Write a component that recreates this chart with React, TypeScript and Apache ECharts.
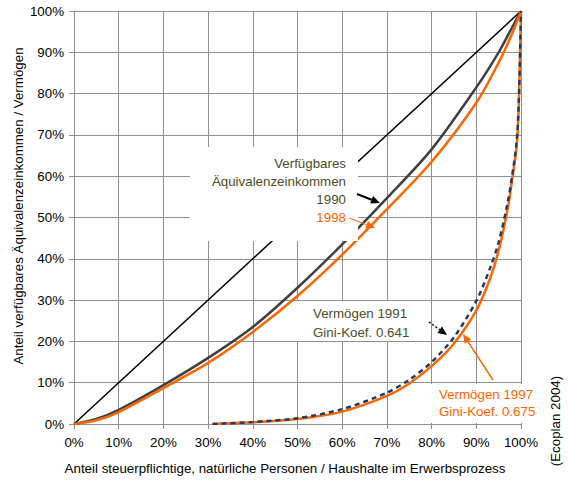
import React, { useEffect, useRef } from "react";
import * as echarts from "echarts";

// Share of persons / households (x) and cumulative share of income (y)
const incomeShare = [0, 0.05, 0.1, 0.2, 0.3, 0.4, 0.5, 0.6, 0.7, 0.8, 0.9, 0.95, 0.98, 1];
const income1990 = [0, 0.012, 0.034, 0.094, 0.16, 0.235, 0.33, 0.435, 0.547, 0.665, 0.815, 0.9, 0.96, 1];
const income1998 = [0, 0.009, 0.029, 0.087, 0.148, 0.223, 0.31, 0.41, 0.52, 0.635, 0.778, 0.875, 0.945, 1];

// Share of persons (x) and cumulative share of wealth (y)
const wealthShare = [0.31, 0.4, 0.5, 0.6, 0.7, 0.75, 0.8, 0.85, 0.9, 0.93, 0.95, 0.97, 0.98, 0.99, 0.995, 1];
const wealth1991 = [0, 0.005, 0.014, 0.036, 0.076, 0.107, 0.15, 0.21, 0.298, 0.375, 0.44, 0.535, 0.6, 0.68, 0.78, 1];
const wealth1997 = [0, 0.004, 0.012, 0.03, 0.068, 0.098, 0.14, 0.195, 0.275, 0.35, 0.42, 0.52, 0.59, 0.67, 0.77, 1];

const equality = [0, 1];

const FONT = "'Liberation Sans', Arial, sans-serif";
const OLIVE = "#4d4d26";
const ORANGE = "#ff6600";
const NAVY = "#1f3d6b";
const GRID = "#8f8f8f";

function pairs(xs: number[], ys: number[]) {
  return xs.map((x, i) => [x, ys[i]]);
}

function arrow(x1: number, y1: number, x2: number, y2: number, color: string, width: number, dash?: number[]) {
  const dx = x2 - x1, dy = y2 - y1;
  const L = Math.hypot(dx, dy);
  const ux = dx / L, uy = dy / L;
  const hl = 9, hw = 4;
  const bx = x2 - ux * hl, by = y2 - uy * hl;
  const px = -uy * hw, py = ux * hw;
  return [
    { type: "line", z: 100, shape: { x1, y1, x2: bx, y2: by }, style: { stroke: color, lineWidth: width, lineDash: dash } },
    { type: "polygon", z: 100, shape: { points: [[x2, y2], [bx + px, by + py], [bx - px, by - py]] }, style: { fill: color } },
  ];
}

function txt(x: number, y: number, text: string, color: string, align: string, rotation = 0) {
  return {
    type: "text",
    z: 101,
    x,
    y,
    rotation,
    style: { text, fill: color, font: `13.33px ${FONT}`, align, verticalAlign: "middle" },
  };
}

function box(x: number, y: number, w: number, h: number) {
  return { type: "rect", z: 99, shape: { x, y, width: w, height: h }, style: { fill: "#fff" } };
}

export default function App() {
  const ref = useRef<HTMLDivElement>(null);
  useEffect(() => {
    if (!ref.current) return;
    const chart = echarts.init(ref.current, null, { renderer: "svg" });
    const axisCommon = {
      type: "value",
      min: 0,
      max: 1,
      interval: 0.1,
      axisLine: { show: true, lineStyle: { color: GRID, width: 1 } },
      axisTick: { show: true, length: 5, lineStyle: { color: GRID } },
      splitLine: { show: true, lineStyle: { color: GRID, width: 1 } },
      axisLabel: {
        color: "#000",
        fontSize: 13.33,
        fontFamily: FONT,
        formatter: (v: number) => Math.round(v * 100) + "%",
      },
    };
    const curve = { type: "line", symbol: "none", silent: true, smooth: 0.3 };
    chart.setOption({
      animation: false,
      backgroundColor: "#fff",
      grid: { left: 74, right: 47, top: 11, bottom: 56 },
      xAxis: { ...axisCommon, axisLabel: { ...axisCommon.axisLabel, margin: 12 } },
      yAxis: { ...axisCommon, axisLabel: { ...axisCommon.axisLabel, margin: 10 } },
      series: [
        {
          type: "line", name: "Gleichverteilung", symbol: "none", silent: true,
          data: pairs(equality, equality),
          lineStyle: { color: "#000", width: 1.5 },
        },
        { ...curve, name: "Einkommen 1990", data: pairs(incomeShare, income1990), lineStyle: { color: "#404040", width: 2.5 } },
        { ...curve, name: "Einkommen 1998", data: pairs(incomeShare, income1998), lineStyle: { color: ORANGE, width: 2.5 } },
        { ...curve, name: "Vermögen 1997", data: pairs(wealthShare, wealth1997), lineStyle: { color: ORANGE, width: 2.5 } },
        { ...curve, name: "Vermögen 1991", data: pairs(wealthShare, wealth1991), lineStyle: { color: NAVY, width: 2.5, type: [5, 4] } },
      ],
      graphic: [
        box(190, 147, 168, 94),
        box(296, 301, 135, 40),
        box(429, 384, 116, 39),
        txt(346, 163, "Verfügbares", OLIVE, "right"),
        txt(346, 181, "Äquivalenzeinkommen", OLIVE, "right"),
        txt(346, 199, "1990", OLIVE, "right"),
        txt(346, 217, "1998", ORANGE, "right"),
        ...arrow(357, 194, 380, 203, "#000", 2),
        ...arrow(349, 218, 375, 228, ORANGE, 1),
        txt(313, 313, "Vermögen 1991", OLIVE, "left"),
        txt(313, 332, "Gini-Koef. 0.641", OLIVE, "left"),
        ...arrow(429, 322, 447, 335, "#000", 1.5, [2, 2]),
        txt(439, 394, "Vermögen 1997", ORANGE, "left"),
        txt(439, 411, "Gini-Koef. 0.675", ORANGE, "left"),
        ...arrow(493, 380, 463, 334, ORANGE, 1.5),
        txt(285, 468, "Anteil steuerpflichtige, natürliche Personen / Haushalte im Erwerbsprozess", "#000", "center"),
        txt(18, 206, "Anteil verfügbares Äquivalenzeinkommen / Vermögen", "#000", "center", Math.PI / 2),
        txt(555, 421, "(Ecoplan 2004)", "#000", "center", Math.PI / 2),
      ],
    });
    return () => chart.dispose();
  }, []);
  return <div ref={ref} style={{ position: "fixed", left: 0, top: 0, width: 568, height: 480 }} />;
}
